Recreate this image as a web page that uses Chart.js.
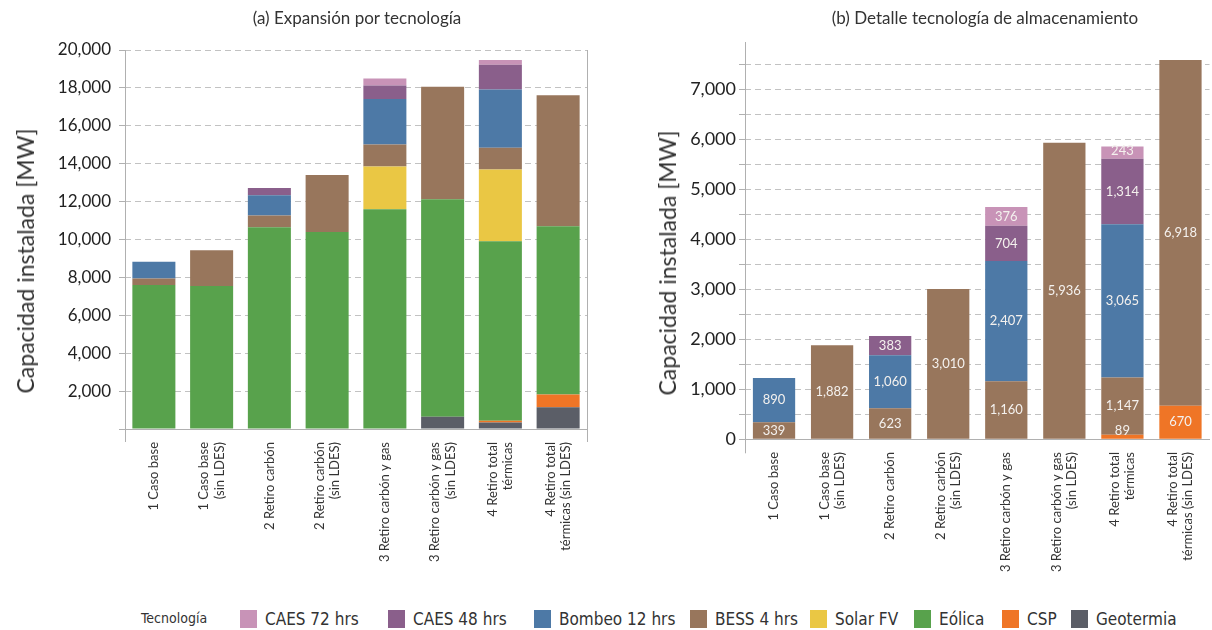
<!DOCTYPE html>
<html>
<head>
<meta charset="utf-8">
<script src="https://cdn.jsdelivr.net/npm/chart.js@4/dist/chart.umd.min.js"></script>
<style>
  body { margin: 0; background: #fff; width: 1212px; height: 630px; overflow: hidden; position: relative; font-family: Lato, sans-serif; color: #333; }
  canvas { position: absolute; top: 0; }
  #chartA { left: 0; }
  #chartB { left: 612px; }
  .title { position: absolute; top: 7px; font-size: 17px; white-space: nowrap; transform: translateX(-50%); }
  .ytitle { position: absolute; font-size: 23px; white-space: nowrap; transform: translate(-50%, -50%) rotate(-90deg); }
  .legend { position: absolute; top: 609px; font-family: "Liberation Sans Narrow", "DejaVu Sans Condensed", sans-serif; font-size: 17px; color: #333; white-space: nowrap; }
  .legend .box { position: absolute; top: 1px; width: 17px; height: 18px; }
  .legend .txt { position: absolute; top: 0; line-height: 20px; }
  .legend-head { position: absolute; top: 610px; left: 141px; font-family: "Liberation Sans Narrow", "DejaVu Sans Condensed", sans-serif; font-size: 14px; color: #333; }
</style>
</head>
<body>
<canvas id="chartA" width="600" height="600"></canvas>
<canvas id="chartB" width="600" height="600"></canvas>
<div class="title" style="left:357px">(a) Expansión por tecnología</div>
<div class="title" style="left:985px">(b) Detalle tecnología de almacenamiento</div>
<div class="ytitle" style="left:25px; top:261px">Capacidad instalada [MW]</div>
<div class="ytitle" style="left:667px; top:263px">Capacidad instalada [MW]</div>
<div class="legend-head">Tecnología</div>
<div id="legend"></div>
<script>
// Escenarios (eje x)
const escenarios = [
    '1 Caso base',
    ['1 Caso base', '(sin LDES)'],
    '2 Retiro carbón',
    ['2 Retiro carbón', '(sin LDES)'],
    '3 Retiro carbón y gas',
    ['3 Retiro carbón y gas', '(sin LDES)'],
    ['4 Retiro total', 'térmicas'],
    ['4 Retiro total', 'térmicas (sin LDES)']
];

// Capacidad instalada por tecnología [MW]
const geotermia = [0, 0, 0, 0, 0, 650, 340, 1150];
const csp       = [0, 0, 0, 0, 0, 0, 89, 670];
const eolica    = [7600, 7550, 10650, 10390, 11600, 11470, 9480, 8880];
const solarFV   = [0, 0, 0, 0, 2250, 0, 3790, 0];
const bess4     = [339, 1882, 623, 3010, 1160, 5936, 1147, 6918];
const bombeo12  = [890, 0, 1060, 0, 2407, 0, 3065, 0];
const caes48    = [0, 0, 383, 0, 704, 0, 1314, 0];
const caes72    = [0, 0, 0, 0, 376, 0, 243, 0];

const colores = {
    caes72: '#c893b7',
    caes48: '#8a5f8b',
    bombeo: '#4d79a6',
    bess: '#98765c',
    solar: '#eac744',
    eolica: '#58a24c',
    csp: '#ef7526',
    geo: '#5b5e67'
};

const legendItems = [
    { label: 'CAES 72 hrs', color: colores.caes72, x: 240 },
    { label: 'CAES 48 hrs', color: colores.caes48, x: 388 },
    { label: 'Bombeo 12 hrs', color: colores.bombeo, x: 534 },
    { label: 'BESS 4 hrs', color: colores.bess, x: 690 },
    { label: 'Solar FV', color: colores.solar, x: 810 },
    { label: 'Eólica', color: colores.eolica, x: 914 },
    { label: 'CSP', color: colores.csp, x: 1002 },
    { label: 'Geotermia', color: colores.geo, x: 1071 }
];

const legend = document.getElementById('legend');
legendItems.forEach(item => {
    const el = document.createElement('div');
    el.className = 'legend';
    el.style.left = item.x + 'px';
    el.innerHTML = `<span class="box" style="left:0;background:${item.color}"></span><span class="txt" style="left:25px">${item.label}</span>`;
    legend.appendChild(el);
});

const fmt = v => v.toLocaleString('en-US');
const gridGray = '#c2c2c2';
const axisGray = '#b0b0b0';

// rotated category labels, block centred on each bar
const xLabels = {
    id: 'xLabels',
    afterDraw(chart, args, opts) {
        const ctx = chart.ctx;
        const xs = chart.scales.x;
        ctx.save();
        ctx.font = '13px Lato';
        ctx.fillStyle = '#333';
        ctx.textAlign = 'right';
        ctx.textBaseline = 'middle';
        chart.data.labels.forEach((lab, i) => {
            const lines = Array.isArray(lab) ? lab : [lab];
            const px = xs.getPixelForTick(i);
            lines.forEach((ln, j) => {
                const off = (j - (lines.length - 1) / 2) * opts.lineHeight;
                ctx.save();
                ctx.translate(px + off, opts.top);
                ctx.rotate(-Math.PI / 2);
                ctx.fillText(ln, 0, 0);
                ctx.restore();
            });
        });
        ctx.restore();
    }
};

// axis frame lines that run a little below the baseline
const frame = {
    id: 'frame',
    afterDraw(chart, args, opts) {
        const { ctx, chartArea } = chart;
        ctx.save();
        ctx.strokeStyle = axisGray;
        ctx.lineWidth = 1;
        const sides = opts.right ? [chartArea.left, chartArea.right] : [chartArea.left];
        sides.forEach(x => {
            const xx = Math.round(x) + 0.5;
            ctx.beginPath();
            ctx.moveTo(xx, chartArea.top);
            ctx.lineTo(xx, chartArea.bottom + opts.ext);
            ctx.stroke();
        });
        ctx.restore();
    }
};

// value labels inside the stacked segments
const valueLabels = {
    id: 'valueLabels',
    afterDatasetsDraw(chart) {
        const ctx = chart.ctx;
        ctx.save();
        ctx.font = '13px Lato';
        ctx.fillStyle = '#f4f1ee';
        ctx.textAlign = 'center';
        ctx.textBaseline = 'middle';
        chart.data.datasets.forEach((ds, di) => {
            const meta = chart.getDatasetMeta(di);
            meta.data.forEach((bar, i) => {
                const v = ds.data[i];
                if (!v) return;
                let y = (bar.y + bar.base) / 2;
                y = Math.min(y, bar.base - 7.5);
                ctx.fillText(fmt(v), bar.x, y);
            });
        });
        ctx.restore();
    }
};

function ds(label, data, color) {
    return { label, data, backgroundColor: color, borderWidth: 0 };
}

new Chart(document.getElementById('chartA'), {
    type: 'bar',
    data: {
        labels: escenarios,
        datasets: [
            ds('Geotermia', geotermia, colores.geo),
            ds('CSP', csp, colores.csp),
            ds('Eólica', eolica, colores.eolica),
            ds('Solar FV', solarFV, colores.solar),
            ds('BESS 4 hrs', bess4, colores.bess),
            ds('Bombeo 12 hrs', bombeo12, colores.bombeo),
            ds('CAES 48 hrs', caes48, colores.caes48),
            ds('CAES 72 hrs', caes72, colores.caes72)
        ]
    },
    options: {
        responsive: false,
        animation: false,
        devicePixelRatio: 1,
        layout: { padding: { top: 50, right: 13, left: 0, bottom: 0 } },
        datasets: { bar: { categoryPercentage: 1, barPercentage: 0.745 } },
        plugins: {
            legend: { display: false },
            tooltip: { enabled: false },
            xLabels: { top: 442, lineHeight: 15.5 },
            frame: { right: true, ext: 13 }
        },
        scales: {
            x: {
                stacked: true,
                grid: { display: false },
                border: { display: true, color: axisGray },
                ticks: { display: false },
                afterFit(scale) { scale.height = 171; }
            },
            y: {
                stacked: true,
                min: 0,
                max: 20000,
                border: { display: false, dash: [6, 4] },
                grid: {
                    color: c => c.tick && c.tick.value === 0 ? 'rgba(0,0,0,0)' : gridGray,
                    tickColor: axisGray,
                    tickLength: 6,
                    tickBorderDash: [],
                    lineWidth: 1
                },
                ticks: {
                    stepSize: 1000,
                    padding: 8,
                    color: '#222',
                    font: { family: 'Lato', size: 17 },
                    callback: v => (v > 0 && v % 2000 === 0) ? fmt(v) : ''
                },
                afterFit(scale) { scale.width = 125; }
            }
        }
    },
    plugins: [xLabels, frame]
});

new Chart(document.getElementById('chartB'), {
    type: 'bar',
    data: {
        labels: escenarios,
        datasets: [
            ds('CSP', csp, colores.csp),
            ds('BESS 4 hrs', bess4, colores.bess),
            ds('Bombeo 12 hrs', bombeo12, colores.bombeo),
            ds('CAES 48 hrs', caes48, colores.caes48),
            ds('CAES 72 hrs', caes72, colores.caes72)
        ]
    },
    options: {
        responsive: false,
        animation: false,
        devicePixelRatio: 1,
        layout: { padding: { top: 42, right: 2.5, left: 0, bottom: 0 } },
        datasets: { bar: { categoryPercentage: 1, barPercentage: 0.728 } },
        plugins: {
            legend: { display: false },
            tooltip: { enabled: false },
            xLabels: { top: 452, lineHeight: 15.5 },
            frame: { right: false, ext: 14 }
        },
        scales: {
            x: {
                stacked: true,
                grid: { display: false },
                border: { display: true, color: axisGray },
                ticks: { display: false },
                afterFit(scale) { scale.height = 160.7; }
            },
            y: {
                stacked: true,
                min: 0,
                max: 7950,
                border: { display: false, dash: [6, 4] },
                grid: {
                    color: c => c.tick && c.tick.value === 0 ? 'rgba(0,0,0,0)' : gridGray,
                    tickColor: axisGray,
                    tickLength: 6,
                    tickBorderDash: []
                },
                // one tick every 500 MW, the top of the scale is not a tick
                afterBuildTicks(scale) {
                    const list = [];
                    for (let v = 0; v <= scale.max; v += 500) list.push({ value: v });
                    scale.ticks = list;
                },
                ticks: {
                    autoSkip: false,
                    padding: 3,
                    color: '#222',
                    font: { family: 'Lato', size: 18 },
                    callback: v => v % 1000 === 0 ? fmt(v) : ''
                },
                afterFit(scale) { scale.width = 133; }
            }
        }
    },
    plugins: [xLabels, frame, valueLabels]
});
</script>
</body>
</html>
